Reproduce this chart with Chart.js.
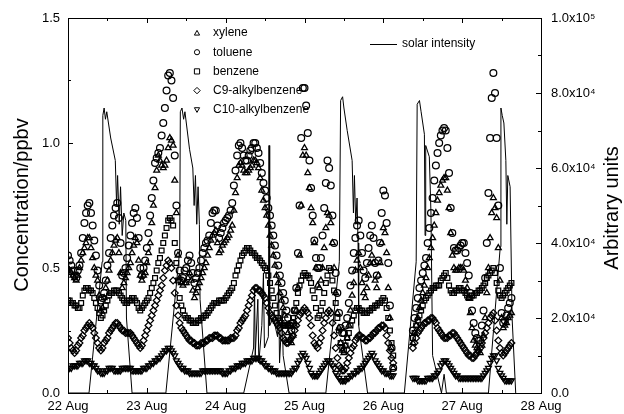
<!DOCTYPE html>
<html>
<head>
<meta charset="utf-8">
<script src="https://cdn.jsdelivr.net/npm/chart.js@4.4.1/dist/chart.umd.min.js"></script>
<style>
  html, body { margin: 0; padding: 0; background: #fff; }
</style>
</head>
<body>
<canvas id="vocChart" width="624" height="414"></canvas>
<script>
// half-hourly samples, index 0 = 22 Aug 00:00 ; null = no data (gap on 26 Aug)
let sample_step = 0.5;
let day_labels = ["22 Aug", "23 Aug", "24 Aug", "25 Aug", "26 Aug", "27 Aug", "28 Aug"];
let left_ticks = [0.0, 0.5, 1.0, 1.5];
let right_ticks = [0, 20000, 40000, 60000, 80000, 100000];

let toluene = [
  .55,.53,.51,.49,.47,.46,.49,.51,.56,.62,.68,.72,.75,.76,.72,.67,.61,.55,.49,.43,.37,.38,.4,.45,
  .51,.56,.62,.67,.71,.74,.76,.7,.6,.47,.48,.5,.54,.59,.63,.68,.72,.74,.7,.62,.5,.47,.5,.53,
  .58,.64,.71,.78,.85,.92,.94,.96,.98,1.03,1.08,1.14,1.21,1.27,1.28,1.25,1.18,.95,.75,.56,.49,.45,.46,.49,
  .5,.53,.55,.52,.48,.44,.46,.48,.5,.53,.56,.58,.6,.61,.63,.68,.72,.73,.73,.67,.62,.64,.66,.68,
  .69,.7,.71,.73,.76,.83,.89,.95,.99,1.0,.98,.95,.93,.93,.95,.97,.98,1.0,1.0,.98,.96,.92,.88,.84,
  .81,.78,.74,.71,.67,.63,.59,.55,.51,.47,.44,.4,.37,.33,.3,.27,.25,.28,.33,.42,.56,.75,1.02,1.22,
  1.22,1.15,1.04,.93,.82,.71,.61,.54,.5,.5,.54,.63,.74,.84,.93,.9,.83,.71,.6,.48,.4,.32,.26,.24,
  .24,.27,.3,.36,.43,.49,.56,.62,.67,.69,.63,.56,.49,.46,.52,.58,.63,.67,.62,.52,.47,.53,.6,.72,
  .81,.79,.68,.52,.35,.18,.1,
  null,null,null,null,null,null,null,null,null,null,null,
  .25,.3,.34,.38,.42,.45,.48,.51,.54,.6,.66,.72,.78,.85,.91,.96,1.0,1.03,1.05,1.06,1.05,.98,.88,.74,.64,.58,.57,.57,.58,.59,
  .6,.6,.56,.52,.47,.4,.33,.28,.24,.22,.21,.21,.27,.33,.46,.6,.8,1.02,1.18,1.28,1.2,1.02,.75,.5,.32,.28,.29,.31,.34,.36,.38
];
let xylene = [
  .5,.49,.48,.47,.46,.45,.47,.5,.53,.56,.58,.6,.62,.62,.58,.54,.5,.47,.45,.39,.33,.34,.38,.42,
  .45,.49,.53,.56,.59,.61,.62,.56,.48,.42,.44,.46,.48,.5,.52,.56,.59,.62,.6,.53,.47,.45,.47,.48,
  .52,.56,.6,.68,.75,.82,.89,.95,.93,.91,.9,.91,.93,.98,1.02,1.01,.99,.85,.72,.55,.46,.44,.43,.44,
  .44,.46,.48,.45,.41,.38,.4,.42,.44,.46,.48,.5,.52,.55,.58,.61,.63,.64,.65,.6,.56,.57,.59,.6,
  .61,.62,.63,.65,.67,.73,.8,.86,.91,.92,.91,.89,.88,.88,.89,.9,.91,.93,.93,.92,.9,.86,.81,.77,
  .74,.71,.67,.63,.59,.55,.51,.47,.44,.4,.37,.34,.31,.27,.24,.21,.2,.23,.27,.33,.42,.55,.75,.95,
  .98,.95,.88,.82,.74,.68,.6,.5,.43,.42,.45,.5,.58,.66,.72,.71,.68,.6,.5,.4,.32,.26,.2,.17,
  .16,.19,.22,.27,.33,.39,.44,.49,.53,.56,.5,.44,.4,.38,.42,.47,.52,.55,.52,.45,.42,.47,.52,.6,
  .66,.64,.56,.42,.3,.18,.1,
  null,null,null,null,null,null,null,null,null,null,null,
  .2,.24,.27,.3,.34,.37,.4,.43,.46,.5,.54,.58,.62,.67,.72,.77,.8,.83,.85,.86,.86,.81,.74,.64,.55,.5,.49,.49,.5,.5,
  .5,.49,.45,.42,.38,.32,.26,.21,.19,.18,.17,.16,.19,.23,.3,.4,.5,.62,.72,.78,.74,.7,.58,.45,.3,.26,.27,.28,.3,.31,.32
];
let benzene = [
  .37,.37,.36,.36,.35,.35,.34,.34,.36,.39,.41,.42,.42,.41,.41,.4,.38,.36,.34,.32,.3,.31,.33,.35,
  .37,.39,.4,.4,.41,.41,.41,.4,.39,.38,.37,.36,.36,.37,.37,.38,.38,.37,.36,.34,.33,.34,.35,.36,
  .37,.38,.4,.42,.44,.46,.49,.52,.54,.57,.6,.63,.66,.69,.7,.69,.67,.6,.52,.45,.38,.35,.33,.31,
  .3,.3,.29,.29,.28,.28,.28,.29,.29,.3,.3,.31,.31,.32,.33,.34,.35,.36,.36,.36,.37,.37,.37,.37,
  .38,.39,.4,.41,.42,.44,.47,.49,.51,.53,.55,.56,.57,.58,.58,.57,.56,.56,.55,.54,.54,.53,.52,.51,
  .5,.49,.47,.44,.41,.38,.35,.32,.3,.29,.28,.27,.27,.27,.27,.27,.28,.3,.33,.36,.4,.43,.45,.47,
  .48,.47,.47,.46,.44,.41,.38,.34,.3,.31,.33,.36,.4,.44,.47,.5,.49,.45,.41,.36,.3,.25,.2,.18,
  .17,.19,.22,.24,.27,.29,.31,.33,.34,.34,.33,.33,.32,.32,.32,.33,.33,.34,.34,.35,.35,.36,.36,.37,
  .38,.37,.34,.3,.25,.2,.15,
  null,null,null,null,null,null,null,null,null,null,null,
  .22,.24,.27,.29,.31,.33,.35,.37,.38,.39,.4,.41,.42,.42,.43,.43,.43,.45,.46,.47,.48,.46,.43,.41,.4,.4,.41,.41,.42,.42,
  .41,.41,.4,.39,.38,.38,.39,.39,.4,.4,.41,.41,.42,.43,.44,.46,.47,.48,.49,.5,.48,.44,.41,.39,.38,.39,.4,.41,.42,.43,.44
];
let c9_alkylbenzene = [
  .22,.2,.18,.17,.16,.17,.19,.2,.22,.23,.25,.26,.27,.28,.27,.26,.24,.22,.2,.18,.17,.18,.2,.21,
  .22,.24,.25,.26,.27,.28,.28,.27,.26,.25,.25,.24,.24,.24,.24,.23,.22,.21,.2,.19,.18,.19,.21,.23,
  .25,.27,.29,.31,.33,.35,.37,.39,.41,.43,.46,.49,.51,.53,.52,.5,.45,.4,.35,.31,.28,.26,.25,.24,
  .23,.22,.21,.21,.2,.2,.19,.19,.19,.2,.2,.2,.21,.21,.22,.22,.22,.23,.23,.23,.22,.22,.21,.21,
  .21,.21,.21,.22,.22,.22,.23,.25,.26,.28,.29,.3,.31,.33,.35,.37,.39,.41,.42,.42,.41,.41,.4,.39,
  .38,.36,.34,.32,.31,.3,.29,.28,.27,.26,.24,.22,.21,.2,.2,.21,.22,.23,.25,.27,.29,.31,.32,.33,
  .34,.33,.32,.3,.27,.23,.2,.19,.18,.2,.22,.25,.28,.3,.32,.33,.32,.28,.23,.18,.14,.11,.1,.09,
  .09,.1,.12,.14,.16,.18,.19,.21,.22,.23,.23,.22,.22,.21,.21,.22,.22,.23,.24,.24,.25,.26,.26,.27,
  .27,.26,.23,.2,.17,.14,.12,
  null,null,null,null,null,null,null,null,null,null,null,
  .18,.2,.22,.24,.25,.26,.27,.28,.28,.29,.29,.3,.3,.29,.28,.26,.25,.24,.23,.22,.22,.22,.23,.23,.24,.24,.23,.22,.21,.2,
  .19,.18,.17,.16,.15,.15,.14,.14,.15,.16,.17,.18,.2,.22,.24,.26,.28,.3,.31,.32,.29,.25,.21,.18,.16,.15,.16,.17,.18,.19,.2
];
let c10_alkylbenzene = [
  .1,.1,.1,.11,.11,.11,.11,.12,.12,.12,.13,.13,.13,.12,.12,.11,.11,.1,.09,.09,.08,.08,.08,.09,
  .09,.1,.1,.1,.09,.09,.09,.09,.09,.1,.1,.1,.1,.1,.1,.09,.09,.09,.09,.09,.09,.09,.1,.1,
  .1,.11,.11,.12,.12,.13,.13,.14,.14,.15,.16,.17,.17,.18,.18,.17,.16,.15,.13,.12,.11,.1,.1,.09,
  .09,.09,.08,.08,.08,.08,.08,.08,.08,.08,.09,.09,.09,.09,.09,.09,.09,.09,.09,.09,.09,.09,.08,.08,
  .08,.08,.09,.09,.1,.1,.1,.11,.11,.11,.12,.12,.12,.13,.13,.13,.13,.14,.14,.14,.14,.13,.13,.12,
  .11,.11,.1,.1,.09,.09,.09,.08,.08,.08,.08,.08,.08,.08,.08,.08,.08,.09,.1,.1,.12,.13,.15,.16,
  .15,.14,.12,.1,.08,.07,.07,.07,.07,.08,.09,.1,.11,.12,.13,.13,.12,.11,.1,.08,.07,.06,.05,.05,
  .05,.05,.06,.06,.07,.07,.08,.08,.09,.09,.1,.1,.11,.12,.13,.14,.15,.16,.15,.13,.12,.11,.1,.09,
  .09,.08,.08,.08,.07,.07,.07,
  null,null,null,null,null,null,null,null,null,null,null,
  .06,.06,.06,.05,.05,.05,.05,.05,.05,.06,.06,.06,.06,.07,.07,.08,.09,.11,.12,.13,.13,.12,.11,.1,.09,.08,.07,.07,.06,.06,
  .06,.06,.06,.06,.06,.06,.06,.06,.06,.06,.06,.06,.06,.07,.08,.09,.1,.12,.14,.15,.15,.13,.1,.08,.07,.06,.05,.05,.05,.05,.05
];

// solar intensity, read as vertices (hour since 22 Aug 00:00, arbitrary units)
let solar_hours = [0,
  6.4,10.4,10.6,11.0,11.4,11.8,13.0,14.4,14.8,15.1,15.6,16.0,16.5,17.0,17.6,17.8,19.5,
  29.8,34.0,34.2,34.7,35.2,35.6,37.0,38.0,38.4,38.8,39.2,39.6,40.0,40.2,42.3,
  53.5,56.5,56.8,57.0,57.8,58.1,59.0,59.5,59.8,61.0,61.2,61.4,62.5,63.8,64.1,64.4,65.2,65.5,67.3,
  78.5,82.6,83.0,83.6,84.0,85.0,86.5,86.9,87.2,87.6,88.0,88.3,88.5,91.2,
  102.4,106.0,106.3,107.0,107.5,108.5,108.7,108.9,110.0,110.5,111.0,113.7,114.5,115.2,
  128.0,131.6,131.8,132.2,132.7,133.3,133.6,133.9,134.6,135.2,136.3];
let solar_values = [0,
  0,35000,74000,76000,73000,75000,68000,62000,50000,58000,45000,55000,42000,48000,46000,20000,0,
  0,38000,75000,76000,73000,75000,65000,60000,50000,58000,45000,55000,45000,25000,0,
  0,12000,28000,10000,25000,8000,18000,32000,12000,15000,66000,18000,20000,15000,30000,8000,22000,10000,0,
  0,35000,78000,79000,76000,70000,62000,48000,58000,45000,52000,40000,18000,0,
  0,35000,77000,78000,75000,69000,42000,66000,63000,48000,10000,0,5000,0,
  0,39000,76000,74000,72000,62000,45000,58000,55000,20000,0];

function toPoints(values) {
  let pts = [];
  values.forEach((v, i) => { if (v !== null) pts.push({x: i * sample_step, y: v}); });
  return pts;
}

let solar_points = solar_hours.map((h, i) => ({x: h, y: solar_values[i]}));

const FONT = "Liberation Sans, Arial, Helvetica, sans-serif";

function marker(style, rot) {
  return {
    type: "scatter",
    yAxisID: "y",
    showLine: false,
    pointStyle: style,
    rotation: rot || 0,
    pointRadius: 3.4,
    borderWidth: 1.25,
    borderColor: "#000",
    backgroundColor: "rgba(0,0,0,0)"
  };
}

// legend symbols
function drawSymbol(ctx, kind, x, y) {
  let r = 2.6;
  ctx.beginPath();
  if (kind == "circle") {
    ctx.arc(x, y, r, 0, Math.PI * 2);
  } else if (kind == "rect") {
    ctx.rect(x - r, y - r, 2 * r, 2 * r);
  } else if (kind == "diamond") {
    ctx.moveTo(x, y - r - 0.6); ctx.lineTo(x + r + 0.6, y); ctx.lineTo(x, y + r + 0.6); ctx.lineTo(x - r - 0.6, y); ctx.closePath();
  } else if (kind == "up") {
    ctx.moveTo(x, y - r); ctx.lineTo(x + r, y + r * 0.8); ctx.lineTo(x - r, y + r * 0.8); ctx.closePath();
  } else {
    ctx.moveTo(x, y + r); ctx.lineTo(x + r, y - r * 0.8); ctx.lineTo(x - r, y - r * 0.8); ctx.closePath();
  }
  ctx.stroke();
}

const frame_plugin = {
  id: "frame_plugin",
  beforeDatasetsDraw(chart) {
    const ctx = chart.ctx;
    ctx.save();
    ctx.fillStyle = "#000";
    ctx.strokeStyle = "#000";
    ctx.lineWidth = 1;
    ctx.font = "12px " + FONT;
    ctx.textBaseline = "middle";
    let names = ["xylene", "toluene", "benzene", "C9-alkylbenzene", "C10-alkylbenzene"];
    let kinds = ["up", "circle", "rect", "diamond", "down"];
    names.forEach((n, i) => {
      let y = 33 + i * 19.2;
      drawSymbol(ctx, kinds[i], 197, y);
      ctx.fillText(n, 213, y);
    });
    ctx.beginPath();
    ctx.moveTo(370, 44.5); ctx.lineTo(397, 44.5);
    ctx.stroke();
    ctx.fillText("solar intensity", 402, 44);
    ctx.restore();
  },
  afterDraw(chart) {
    const ctx = chart.ctx;
    const a = chart.chartArea;
    const xs = chart.scales.x, ys = chart.scales.y, y2 = chart.scales.y2;
    ctx.save();
    ctx.strokeStyle = "#000";
    ctx.lineWidth = 1;
    ctx.strokeRect(a.left + 0.5, a.top + 0.5, a.right - a.left, a.bottom - a.top);
    ctx.beginPath();
    for (let h = 0; h <= 144; h += 12) {
      let px = Math.round(xs.getPixelForValue(h)) + 0.5;
      let len = (h % 24 == 0) ? 5 : 3;
      ctx.moveTo(px, a.bottom); ctx.lineTo(px, a.bottom - len);
      ctx.moveTo(px, a.top); ctx.lineTo(px, a.top + len);
    }
    for (let v = 0; v <= 1.5001; v += 0.25) {
      let py = Math.round(ys.getPixelForValue(v)) + 0.5;
      let len = (Math.round(v * 4) % 2 == 0) ? 5 : 3;
      ctx.moveTo(a.left, py); ctx.lineTo(a.left + len, py);
    }
    for (let v = 0; v <= 100000; v += 10000) {
      let py = Math.round(y2.getPixelForValue(v)) + 0.5;
      let len = (v % 20000 == 0) ? 5 : 3;
      ctx.moveTo(a.right, py); ctx.lineTo(a.right - len, py);
    }
    ctx.stroke();

    ctx.fillStyle = "#000";
    ctx.font = "20px " + FONT;
    ctx.textAlign = "center";
    ctx.textBaseline = "middle";
    ctx.save();
    ctx.translate(22, 205);
    ctx.rotate(-Math.PI / 2);
    ctx.fillText("Concentration/ppbv", 0, 0);
    ctx.restore();
    ctx.save();
    ctx.translate(612, 208);
    ctx.rotate(-Math.PI / 2);
    ctx.fillText("Arbitrary units", 0, 0);
    ctx.restore();
    ctx.restore();
  }
};

function sciLabel(v) {
  if (v == 0) return "0.0";
  let e = Math.floor(Math.log10(v));
  let m = v / Math.pow(10, e);
  let sup = {"4": "\u2074", "5": "\u2075"};
  return m.toFixed(1) + "x10" + sup[String(e)];
}

new Chart(document.getElementById("vocChart"), {
  type: "scatter",
  data: {
    datasets: [
      Object.assign(marker("triangle"), {label: "xylene", data: toPoints(xylene)}),
      Object.assign(marker("circle"), {label: "toluene", data: toPoints(toluene)}),
      Object.assign(marker("rect"), {label: "benzene", data: toPoints(benzene)}),
      Object.assign(marker("rectRot"), {label: "C9-alkylbenzene", data: toPoints(c9_alkylbenzene)}),
      Object.assign(marker("triangle", 180), {label: "C10-alkylbenzene", data: toPoints(c10_alkylbenzene)}),
      {
        type: "line",
        label: "solar intensity",
        yAxisID: "y2",
        data: solar_points,
        showLine: true,
        borderColor: "#000",
        borderWidth: 1,
        pointRadius: 0,
        tension: 0,
        fill: false
      }
    ]
  },
  options: {
    responsive: false,
    animation: false,
    layout: { padding: { top: 18, left: 0, right: 0, bottom: 0 } },
    plugins: {
      legend: { display: false },
      tooltip: { enabled: false }
    },
    scales: {
      x: {
        type: "linear",
        min: 0,
        max: 144,
        grid: { display: false, drawTicks: false },
        border: { display: false },
        ticks: {
          stepSize: 24,
          padding: 6,
          color: "#000",
          font: { family: FONT, size: 13 },
          maxRotation: 0,
          callback: (v) => day_labels[Math.round(v / 24)]
        },
        afterFit: (s) => { s.height = 21; }
      },
      y: {
        position: "left",
        min: 0,
        max: 1.5,
        grid: { display: false, drawTicks: false },
        border: { display: false },
        afterBuildTicks: (s) => { s.ticks = left_ticks.map(v => ({value: v})); },
        ticks: {
          padding: 8,
          color: "#000",
          font: { family: FONT, size: 13 },
          callback: (v) => v.toFixed(1)
        },
        afterFit: (s) => { s.width = 68; }
      },
      y2: {
        position: "right",
        min: 0,
        max: 100000,
        grid: { display: false, drawTicks: false },
        border: { display: false },
        afterBuildTicks: (s) => { s.ticks = right_ticks.map(v => ({value: v})); },
        ticks: {
          padding: 10,
          color: "#000",
          font: { family: FONT, size: 13 },
          callback: (v) => sciLabel(v)
        },
        afterFit: (s) => { s.width = 83; }
      }
    }
  },
  plugins: [frame_plugin]
});
</script>
</body>
</html>
